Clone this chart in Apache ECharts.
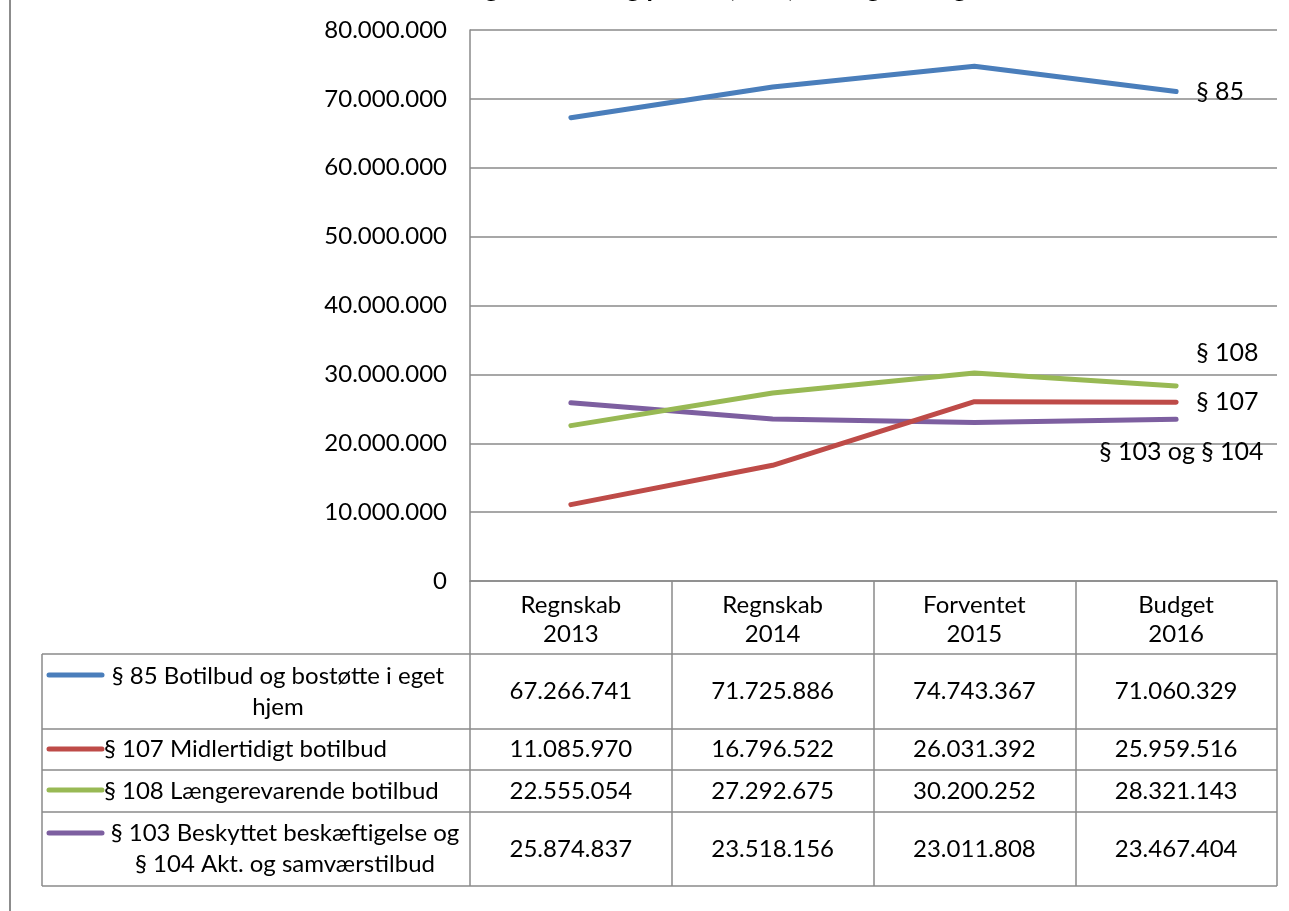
<!DOCTYPE html>
<html>
<head>
<meta charset="utf-8">
<script src="https://cdn.jsdelivr.net/npm/echarts@6/dist/echarts.min.js"></script>
<style>
html,body{margin:0;padding:0;background:#fff;}
#chart{width:1289px;height:911px;}
</style>
</head>
<body>
<div id="chart"></div>
<script>
const titleText = 'Udgiftsudvikling på § 85, 107, 108 og 103 og 104';
const categories = ['Regnskab\n2013', 'Regnskab\n2014', 'Forventet\n2015', 'Budget\n2016'];
const seriesNames = [
  '§ 85 Botilbud og bostøtte i eget\nhjem',
  '§ 107 Midlertidigt botilbud',
  '§ 108 Længerevarende botilbud',
  '§ 103 Beskyttet beskæftigelse og\n§ 104 Akt. og samværstilbud'
];
const endLabels = ['§ 85', '§ 107', '§ 108', '§ 103 og § 104'];
const s85 = [67266741, 71725886, 74743367, 71060329];
const s107 = [11085970, 16796522, 26031392, 25959516];
const s108 = [22555054, 27292675, 30200252, 28321143];
const s103 = [25874837, 23518156, 23011808, 23467404];
const seriesData = [s85, s107, s108, s103];
const colors = ['#4A7EBB', '#BE4B48', '#98B954', '#7D5FA0'];
const yTicks = [0, 10000000, 20000000, 30000000, 40000000, 50000000, 60000000, 70000000, 80000000];

const FONT = 'Lato';
const FS = 24;
const GRID = '#8A8A8A';

function fmt(v) {
  return String(Math.round(v)).replace(/\B(?=(\d{3})+(?!\d))/g, '.');
}

const chart = echarts.init(document.getElementById('chart'));

const endLabelOffsets = [[0, 0], [0, 0], [0, -33], [-97, 33]];

const option = {
  animation: false,
  backgroundColor: '#fff',
  textStyle: { fontFamily: FONT },
  title: {
    text: titleText,
    left: 730,
    textAlign: 'center',
    top: -29,
    textStyle: { fontFamily: FONT, fontSize: 26, fontWeight: 'bold', color: '#000' }
  },
  grid: { left: 470, right: 12, top: 30, bottom: 330, containLabel: false },
  xAxis: {
    type: 'category',
    data: categories,
    boundaryGap: true,
    axisLine: { show: true, lineStyle: { color: GRID, width: 1.5 } },
    axisTick: { show: true, interval: 0, length: 305, lineStyle: { color: GRID, width: 1.5 } },
    axisLabel: { interval: 0, color: '#000', fontFamily: FONT, fontSize: FS, lineHeight: 29, margin: 10 },
    splitLine: { show: false }
  },
  yAxis: {
    type: 'value',
    min: 0,
    max: 80000000,
    interval: 10000000,
    axisLine: { show: true, lineStyle: { color: GRID, width: 1.5 } },
    axisTick: { show: false },
    axisLabel: { color: '#000', fontFamily: FONT, fontSize: FS, margin: 23, formatter: v => fmt(v) },
    splitLine: { show: true, lineStyle: { color: GRID, width: 1.5 } }
  },
  series: seriesData.map((d, i) => ({
    name: seriesNames[i],
    type: 'line',
    data: d,
    symbol: 'none',
    showSymbol: false,
    lineStyle: { color: colors[i], width: 5, cap: 'round', join: 'round' },
    itemStyle: { color: colors[i] },
    endLabel: {
      show: true,
      formatter: endLabels[i],
      color: '#000',
      fontFamily: FONT,
      fontSize: 25,
      distance: 20,
      offset: endLabelOffsets[i]
    },
    emphasis: { disabled: true },
    z: 10 - i
  }))
};

chart.setOption(option);

// Data table below the axis, built from the named arrays
const rowLines = [654, 729, 770, 812, 886];
const tableLeft = 42;
const tableRight = 1277;
const elements = [];
// chart border on the left
elements.push({ type: 'line', shape: { x1: 10, y1: 0, x2: 10, y2: 911 }, style: { stroke: '#8C8C8C', lineWidth: 2 } });
rowLines.forEach(y => {
  elements.push({ type: 'line', shape: { x1: tableLeft, y1: y, x2: tableRight, y2: y }, style: { stroke: GRID, lineWidth: 1.5 } });
});
elements.push({ type: 'line', shape: { x1: tableLeft, y1: rowLines[0], x2: tableLeft, y2: rowLines[rowLines.length - 1] }, style: { stroke: GRID, lineWidth: 1.5 } });

const keyY = [675, 749, 790, 833];
const nameCenters = [278, null, null, 285];
seriesNames.forEach((name, i) => {
  const top = rowLines[i], bottom = rowLines[i + 1];
  const mid = (top + bottom) / 2;
  // legend key
  elements.push({ type: 'line', shape: { x1: 49, y1: keyY[i], x2: 102, y2: keyY[i] }, style: { stroke: colors[i], lineWidth: 5, lineCap: 'round' } });
  // series name
  const multi = name.indexOf('\n') >= 0;
  elements.push({
    type: 'text',
    x: multi ? nameCenters[i] : 104,
    y: mid,
    style: {
      text: name,
      fill: '#000',
      font: FS + 'px ' + FONT,
      align: multi ? 'center' : 'left',
      verticalAlign: 'middle',
      lineHeight: 31
    }
  });
  // values
  seriesData[i].forEach((v, j) => {
    const x = chart.convertToPixel({ xAxisIndex: 0 }, j);
    elements.push({
      type: 'text',
      x: x,
      y: mid,
      style: { text: fmt(v), fill: '#000', font: FS + 'px ' + FONT, align: 'center', verticalAlign: 'middle' }
    });
  });
});

chart.setOption({ graphic: { elements: elements } });
</script>
</body>
</html>
